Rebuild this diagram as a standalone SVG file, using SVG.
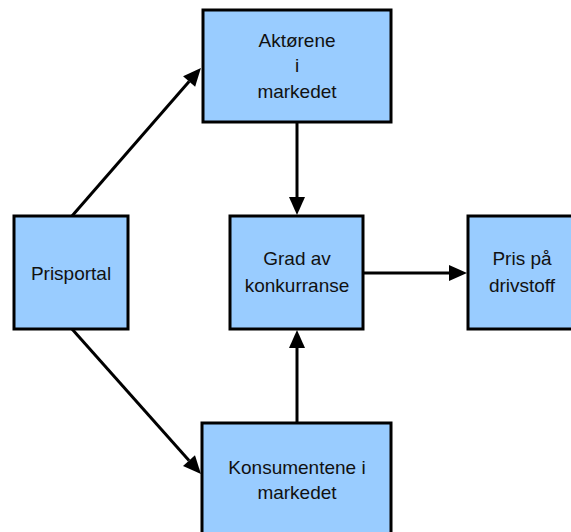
<svg xmlns="http://www.w3.org/2000/svg" width="571" height="532" viewBox="0 0 571 532">
<style>
.box{fill:#99CCFF;stroke:#000;stroke-width:3}
.lbl{font-family:"Liberation Sans",Arial,sans-serif;font-size:19px;fill:#111;text-anchor:middle}
.conn{stroke:#000;stroke-width:3;fill:none}
</style>
<defs>
<marker id="ah" markerUnits="userSpaceOnUse" markerWidth="18" markerHeight="16" refX="0" refY="8" orient="auto" overflow="visible">
<path d="M0,0 L18,8 L0,16 z" fill="#000"/>
</marker>
</defs>
<rect width="571" height="532" fill="#fff"/>
<g id="connectors">
<line class="conn" x1="72" y1="216" x2="189.1" y2="81.5" marker-end="url(#ah)"/>
<line class="conn" x1="72" y1="329" x2="189" y2="460.6" marker-end="url(#ah)"/>
<line class="conn" x1="297" y1="122" x2="297" y2="197" marker-end="url(#ah)"/>
<line class="conn" x1="297" y1="423" x2="297" y2="348" marker-end="url(#ah)"/>
<line class="conn" x1="363" y1="273" x2="449" y2="273" marker-end="url(#ah)"/>
</g>
<g id="aktorene">
<rect class="box" x="203" y="10" width="188" height="112"/>
<text class="lbl" x="297" y="47">Aktørene</text>
<text class="lbl" x="297" y="72">i</text>
<text class="lbl" x="297" y="98">markedet</text>
</g>
<g id="prisportal">
<rect class="box" x="14" y="216" width="114" height="113"/>
<text class="lbl" x="71" y="280">Prisportal</text>
</g>
<g id="grad">
<rect class="box" x="230" y="216" width="133" height="113"/>
<text class="lbl" x="297" y="265">Grad av</text>
<text class="lbl" x="297" y="292">konkurranse</text>
</g>
<g id="pris">
<rect class="box" x="468" y="216" width="110" height="113"/>
<text class="lbl" x="522" y="265">Pris på</text>
<text class="lbl" x="522" y="292">drivstoff</text>
</g>
<g id="konsumentene">
<rect class="box" x="202" y="423" width="189" height="120"/>
<text class="lbl" x="297" y="474">Konsumentene i</text>
<text class="lbl" x="297" y="499">markedet</text>
</g>
</svg>
